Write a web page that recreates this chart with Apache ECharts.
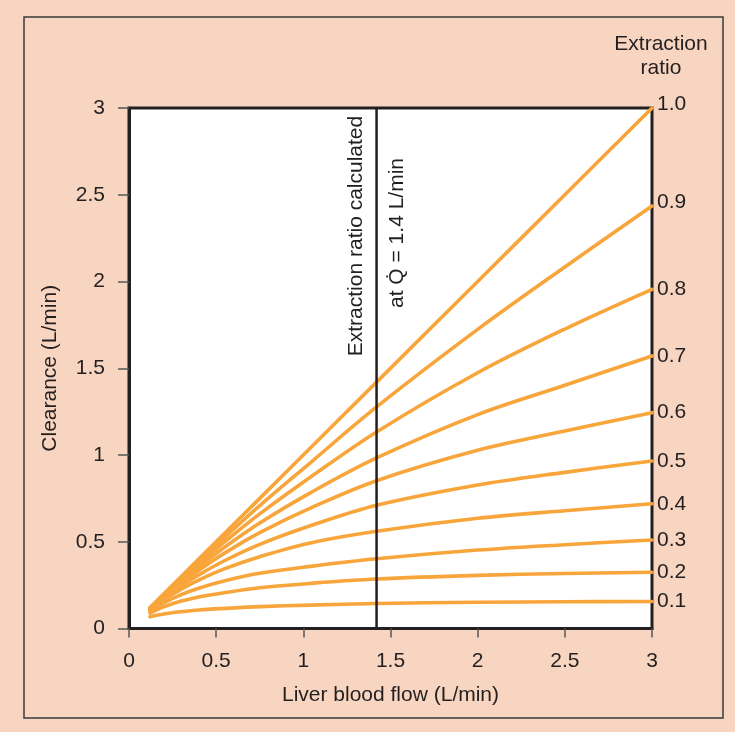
<!DOCTYPE html>
<html>
<head>
<meta charset="utf-8">
<script src="https://cdn.jsdelivr.net/npm/echarts@6/dist/echarts.min.js"></script>
<style>
html,body{margin:0;padding:0;background:#f7d5c0;}
#c{width:735px;height:732px;}
</style>
</head>
<body>
<div id="c"></div>
<script>
// Liver blood flow (L/min) sample points
const flow = [0.12, 0.2, 0.3, 0.4, 0.55, 0.75, 1.04, 1.42, 2.0, 2.5, 3.0];
// Extraction ratio labels
const ratios = ['1.0', '0.9', '0.8', '0.7', '0.6', '0.5', '0.4', '0.3', '0.2', '0.1'];
// Clearance (L/min) per extraction ratio
const cl10 = [0.12, 0.2, 0.3, 0.4, 0.55, 0.75, 1.04, 1.42, 2.0, 2.5, 3.0];
const cl09 = [0.119, 0.197, 0.293, 0.388, 0.527, 0.708, 0.955, 1.277, 1.724, 2.084, 2.435];
const cl08 = [0.117, 0.193, 0.285, 0.373, 0.501, 0.661, 0.872, 1.133, 1.474, 1.726, 1.955];
const cl07 = [0.116, 0.188, 0.275, 0.356, 0.47, 0.608, 0.782, 0.983, 1.233, 1.402, 1.571];
const cl06 = [0.113, 0.182, 0.262, 0.336, 0.436, 0.553, 0.694, 0.852, 1.027, 1.138, 1.244];
const cl05 = [0.11, 0.174, 0.245, 0.309, 0.392, 0.485, 0.592, 0.71, 0.827, 0.9, 0.965];
const cl04 = [0.106, 0.165, 0.227, 0.279, 0.345, 0.414, 0.493, 0.56, 0.635, 0.679, 0.719];
const cl03 = [0.10, 0.148, 0.195, 0.232, 0.275, 0.318, 0.358, 0.402, 0.452, 0.483, 0.51];
const cl02 = [0.089, 0.125, 0.158, 0.182, 0.207, 0.235, 0.26, 0.285, 0.306, 0.317, 0.324];
const cl01 = [0.068, 0.084, 0.097, 0.107, 0.116, 0.126, 0.135, 0.144, 0.151, 0.154, 0.156];
const curves = [cl10, cl09, cl08, cl07, cl06, cl05, cl04, cl03, cl02, cl01];
// Reference flow where extraction ratio was calculated
const refFlow = 1.42;
const refSpan = [0, 3];

const ink = '#231f20';
const orange = '#f8a53b';
const font = '"Liberation Sans", Arial, Helvetica, sans-serif';
const fs = 21;

const chart = echarts.init(document.getElementById('c'), null, {renderer: 'canvas'});

const series = curves.map((vals, i) => ({
  type: 'line',
  name: ratios[i],
  data: flow.map((x, j) => [x, vals[j]]),
  smooth: 0.35,
  showSymbol: false,
  symbol: 'none',
  silent: true,
  lineStyle: {color: orange, width: 3.6, cap: 'round', join: 'round'},
  endLabel: {
    show: true,
    formatter: ratios[i],
    color: ink,
    fontFamily: font,
    fontSize: fs,
    distance: 5,
    offset: i < 2 ? [0, -4] : [0, 0]
  },
  z: 2
}));

series.push({
  type: 'line',
  data: refSpan.map(v => [refFlow, v]),
  showSymbol: false,
  symbol: 'none',
  silent: true,
  lineStyle: {color: ink, width: 2.5},
  z: 5
});

chart.setOption({
  animation: false,
  backgroundColor: '#f7d5c0',
  grid: {
    left: 129, top: 108, width: 523, height: 520.5,
    show: true, backgroundColor: '#ffffff', borderColor: ink, borderWidth: 3
  },
  xAxis: {
    type: 'value', min: 0, max: 3, interval: 0.5,
    name: 'Liver blood flow (L/min)', nameLocation: 'middle', nameGap: 56,
    nameTextStyle: {color: ink, fontFamily: font, fontSize: fs},
    axisLine: {show: true, onZero: false, lineStyle: {color: ink, width: 3}},
    axisTick: {show: true, length: 9, lineStyle: {color: '#555', width: 1.5}},
    axisLabel: {color: ink, fontFamily: font, fontSize: fs, margin: 22},
    splitLine: {show: false}
  },
  yAxis: {
    type: 'value', min: 0, max: 3, interval: 0.5,
    name: 'Clearance (L/min)', nameLocation: 'middle', nameGap: 68,
    nameTextStyle: {color: ink, fontFamily: font, fontSize: fs},
    axisLine: {show: true, onZero: false, lineStyle: {color: ink, width: 3}},
    axisTick: {show: true, length: 11, lineStyle: {color: '#555', width: 1.5}},
    axisLabel: {color: ink, fontFamily: font, fontSize: fs, margin: 24},
    splitLine: {show: false}
  },
  series: series,
  graphic: [
    {type: 'rect', shape: {x: 24, y: 17, width: 699, height: 701},
     style: {fill: 'none', stroke: '#3a3a3a', lineWidth: 1.5}, silent: true, z: 0},
    {type: 'text', x: 661, y: 44,
     style: {text: 'Extraction', fill: ink, font: fs + 'px ' + font, textAlign: 'center', textVerticalAlign: 'middle'}},
    {type: 'text', x: 661, y: 68,
     style: {text: 'ratio', fill: ink, font: fs + 'px ' + font, textAlign: 'center', textVerticalAlign: 'middle'}},
    {type: 'text', x: 356.5, y: 236, rotation: Math.PI / 2, z: 10,
     style: {text: 'Extraction ratio calculated', fill: ink, font: fs + 'px ' + font, textAlign: 'center', textVerticalAlign: 'middle'}},
    {type: 'text', x: 397, y: 233, rotation: Math.PI / 2, z: 10,
     style: {text: 'at Q\u0307 = 1.4 L/min', fill: ink, font: fs + 'px ' + font, textAlign: 'center', textVerticalAlign: 'middle'}}
  ]
});
</script>
</body>
</html>
